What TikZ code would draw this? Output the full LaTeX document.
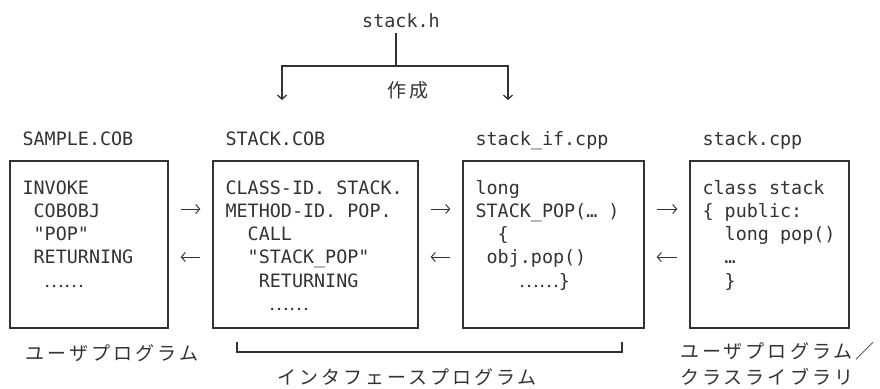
\documentclass[tikz,border=0pt]{standalone}
\usepackage{fontspec}
\usetikzlibrary{arrows.meta,calc}
\newfontfamily\codefont{DejaVu Sans Mono}
\newfontfamily\jpfont[LetterSpace=16]{Noto Sans CJK JP}
\newfontfamily\jpdots{Noto Sans CJK JP}
\definecolor{ink}{HTML}{333333}
\newcommand{\lnhead}{\rule{0pt}{16pt}}
\newcommand{\dd}{{\jpdots ……}}

\begin{document}
\begin{tikzpicture}[x=1pt, y=-1pt, ink,
    box/.style={draw=ink, line width=1.3pt, minimum height=167pt, inner sep=0pt},
    code/.style={anchor=north west, inner sep=0pt, align=left,
      font=\codefont\fontsize{18.4}{23.2}\selectfont},
    fname/.style={anchor=base west, inner sep=0pt,
      font=\codefont\fontsize{18.4}{22}\selectfont},
    jp/.style={inner sep=0pt, font=\jpfont\fontsize{19}{26}\selectfont},
    flow/.style={line width=1pt, -{Straight Barb[length=4pt,width=9pt]}},
    link/.style={line width=1.3pt}]
  \useasboundingbox (0,0) rectangle (880,388);

  % source files
  \node[box, minimum width=158pt] (b1) at (89,244.5) {};
  \node[box, minimum width=205pt] (b2) at (315.5,244.5) {};
  \node[box, minimum width=181pt] (b3) at (553.5,244.5) {};
  \node[box, minimum width=159pt] (b4) at (769.5,244.5) {};

  % file names
  \node[fname] (n1) at ([xshift=13pt,yshift=14.5pt]b1.north west) {SAMPLE.COB};
  \node[fname] (n2) at ([xshift=13pt,yshift=14.5pt]b2.north west) {STACK.COB};
  \node[fname] (n3) at ([xshift=13pt,yshift=14.5pt]b3.north west) {stack\_if.cpp};
  \node[fname] (n4) at ([xshift=13pt,yshift=14.5pt]b4.north west) {stack.cpp};

  % code
  \node[code] (c1) at ([xshift=13pt,yshift=-17.7pt]b1.north west)
    {\lnhead INVOKE\\~COBOBJ\\~"POP"\\~RETURNING\\~~\dd};
  \node[code] (c2) at ([xshift=13pt,yshift=-17.7pt]b2.north west)
    {\lnhead CLASS-ID. STACK.\\METHOD-ID. POP.\\~~CALL\\~~"STACK\_POP"\\~~~RETURNING\\~~~~\dd};
  \node[code] (c3) at ([xshift=13pt,yshift=-17.7pt]b3.north west)
    {\lnhead long\\STACK\_POP(… )\\~~\{\\~obj.pop()\\~~~~\dd\}};
  \node[code] (c4) at ([xshift=13pt,yshift=-17.7pt]b4.north west)
    {\lnhead class stack\\\{ public:\\~~long pop()\\~~…\\~~\}};

  % calls and returns
  \foreach \a/\b in {b1/b2, b2/b3, b3/b4} {
    \draw[flow, shorten <=12pt, shorten >=12pt] ([yshift=35.5pt]\a.east) -- ([yshift=35.5pt]\b.west);
    \draw[flow, shorten <=12pt, shorten >=12pt] ([yshift=-12.5pt]\b.west) -- ([yshift=-12.5pt]\a.east);
  }

  % header
  \node[inner sep=0pt, font=\codefont\fontsize{18.4}{22}\selectfont] (sh) at (401,21) {stack.h};
  \coordinate (jn) at (396,66);
  \coordinate (dL) at (282,100);
  \coordinate (dR) at (508,100);
  \draw[link] ($(jn |- sh.south)+(0,5)$) -- (jn);
  \draw[flow, line width=1.3pt] (jn) -| (dL);
  \draw[flow, line width=1.3pt] (jn) -| (dR);
  \node[jp] (mk) at (408,90) {作成};

  % labels
  \node[jp] (lu) at (112,353) {ユーザプログラム};
  \coordinate (brL) at (237,342);
  \coordinate (brR) at (622,342);
  \draw[link] (brL) -- ++(0,10) -| (brR);
  \node[jp] (li) at (407,377) {インタフェースプログラム};
  \node[jp, anchor=west, align=left] (lr) at (680,364) {ユーザプログラム／\\クラスライブラリ};
\end{tikzpicture}
\end{document}
